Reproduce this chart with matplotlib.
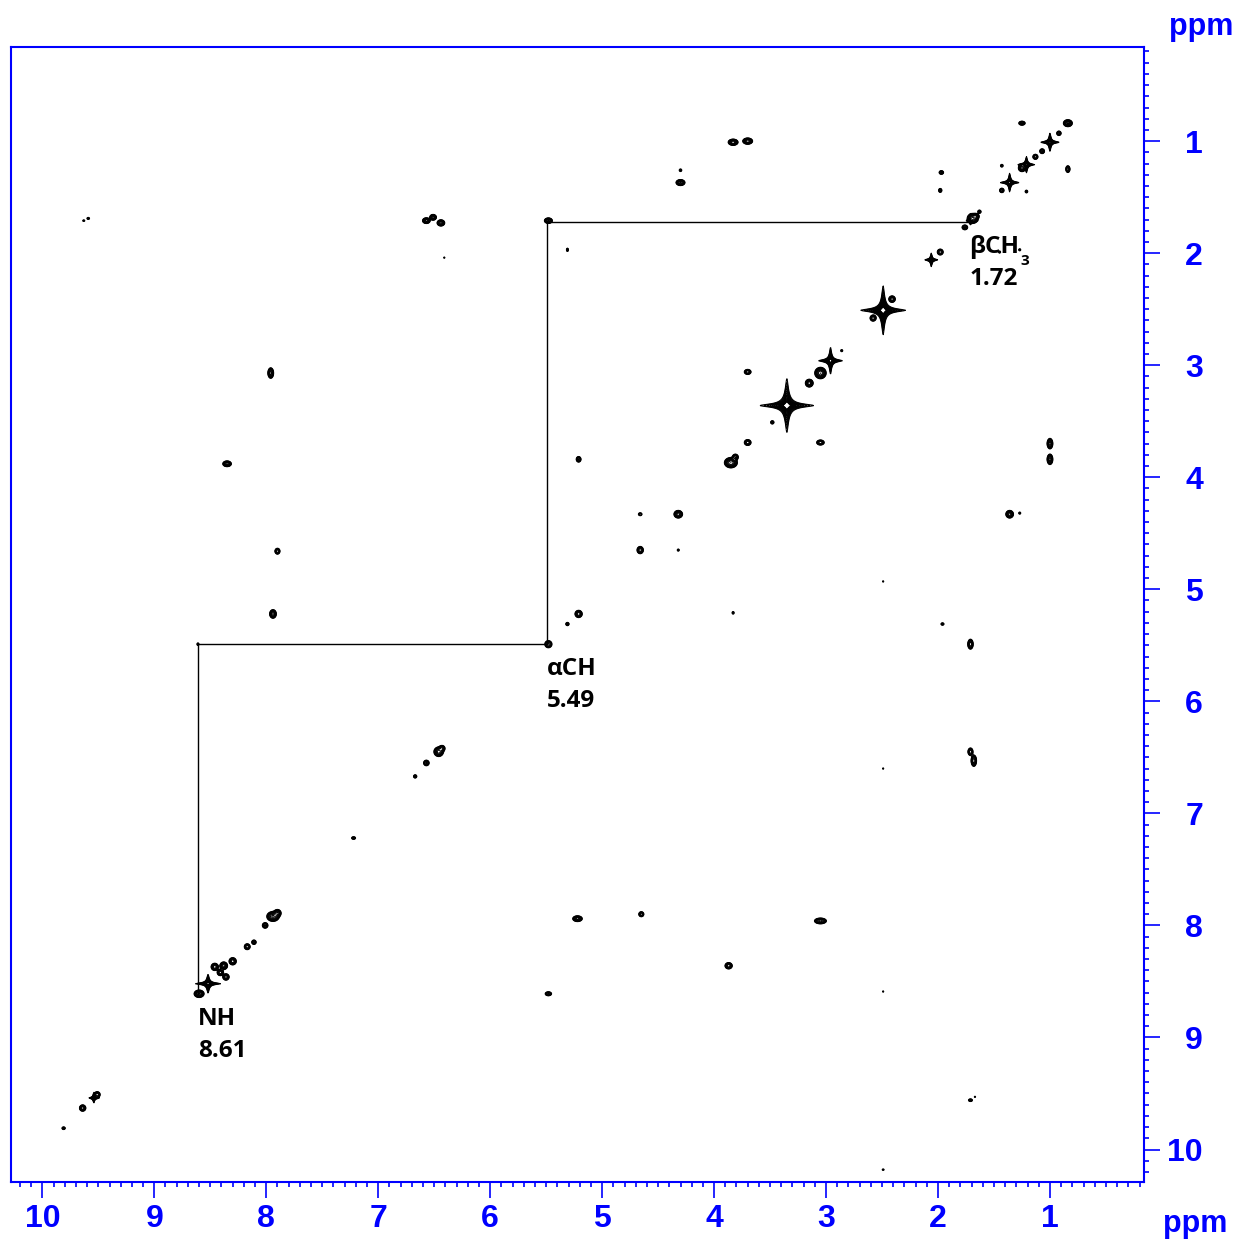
import numpy as np
import matplotlib
matplotlib.use("Agg")
import matplotlib.pyplot as plt
from matplotlib.ticker import MultipleLocator

# ---------------------------------------------------------------- data
# Strong, star-shaped diagonal signals (Lorentzian line shapes), ppm
star_f2 = [3.35, 2.49, 2.96, 1.00, 1.21, 1.36, 8.52, 2.06, 1.71, 9.54]
star_f1 = [3.36, 2.51, 2.96, 1.01, 1.21, 1.37, 8.52, 2.06, 1.71, 9.54]
star_height = [400, 400, 230, 200, 150, 200, 200, 150, 50, 80]
star_hw2 = [0.012, 0.010, 0.007, 0.006, 0.006, 0.006, 0.008, 0.005, 0.005, 0.005]
star_hw1 = [0.012, 0.011, 0.008, 0.006, 0.006, 0.006, 0.006, 0.005, 0.005, 0.005]

# Remaining diagonal and cross peaks (Gaussian line shapes), ppm
spot_f2 = [0.84, 0.92, 1.07, 1.13, 1.25, 1.43, 1.43, 1.21, 0.84, 1.25,
           1.97, 1.98, 1.98, 1.63, 1.45, 1.27, 4.30, 4.30, 3.83, 3.70,
           6.57, 6.51, 6.44, 6.41, 5.48, 5.31, 9.59, 9.63, 2.41, 2.58,
           2.86, 3.05, 3.15, 3.48, 3.70, 3.05, 3.70, 3.85, 3.81, 7.96,
           8.35, 7.90, 7.94, 5.21, 4.32, 4.66, 4.32, 4.66, 1.36, 1.27,
           1.00, 1.00, 2.49, 3.83, 5.21, 5.31, 1.96, 1.71, 5.48, 8.61,
           1.71, 1.68, 2.49, 6.46, 6.43, 6.57, 6.67, 7.22, 7.94, 7.90,
           8.01, 8.11, 8.17, 8.30, 8.38, 8.46, 8.36, 8.41, 8.60, 5.22,
           4.65, 3.05, 3.87, 5.48, 2.49, 1.71, 1.67, 2.49, 9.64, 9.81,
           9.51, 1.69, 1.66, 1.76]
spot_f1 = [0.84, 0.93, 1.09, 1.14, 1.24, 1.44, 1.22, 1.45, 1.25, 0.84,
           1.28, 1.44, 1.99, 1.63, 1.99, 1.97, 1.26, 1.37, 1.01, 1.00,
           1.71, 1.68, 1.73, 2.04, 1.71, 1.97, 1.69, 1.71, 2.41, 2.58,
           2.87, 3.07, 3.16, 3.51, 3.69, 3.69, 3.06, 3.87, 3.82, 3.07,
           3.88, 4.66, 5.22, 3.84, 4.33, 4.33, 4.65, 4.65, 4.33, 4.32,
           3.70, 3.84, 4.93, 5.21, 5.22, 5.31, 5.31, 5.49, 5.49, 5.49,
           6.45, 6.53, 6.60, 6.45, 6.42, 6.55, 6.67, 7.22, 7.92, 7.89,
           8.00, 8.15, 8.19, 8.32, 8.36, 8.37, 8.46, 8.42, 8.61, 7.94,
           7.90, 7.96, 8.36, 8.61, 8.59, 9.56, 9.53, 10.18, 9.63, 9.81,
           9.51, 1.69, 1.67, 1.77]
spot_height = [12, 4, 5, 6, 10, 4, 2, 2, 6, 5,
               4, 3, 6, 3, 2, 2, 2, 12, 15, 15,
               10, 10, 10, 1.6, 12, 3, 2, 2, 8, 6,
               2, 15, 15, 3, 6, 6, 6, 15, 6, 10,
               10, 6, 10, 5, 10, 2.5, 2, 8, 10, 2,
               10, 10, 1.6, 2, 8, 3, 2.5, 8, 5, 2,
               6, 8, 1.6, 10, 6, 5, 3, 3, 12, 8,
               5, 4, 6, 8, 10, 8, 8, 8, 12, 10,
               6, 10, 8, 5, 1.6, 3, 1.6, 1.8, 8, 3,
               6, 12, 6, 5]
spot_w2 = [0.018, 0.012, 0.012, 0.012, 0.015, 0.012, 0.010, 0.010, 0.010, 0.016,
           0.012, 0.010, 0.014, 0.010, 0.008, 0.008, 0.010, 0.018, 0.019, 0.019,
           0.016, 0.014, 0.016, 0.006, 0.016, 0.006, 0.010, 0.008, 0.014, 0.014,
           0.008, 0.022, 0.015, 0.010, 0.016, 0.018, 0.016, 0.025, 0.014, 0.012,
           0.018, 0.012, 0.014, 0.012, 0.018, 0.012, 0.008, 0.014, 0.016, 0.008,
           0.012, 0.012, 0.006, 0.008, 0.016, 0.010, 0.010, 0.012, 0.018, 0.008,
           0.012, 0.012, 0.006, 0.020, 0.014, 0.014, 0.010, 0.012, 0.025, 0.016,
           0.014, 0.012, 0.014, 0.016, 0.016, 0.016, 0.014, 0.014, 0.020, 0.020,
           0.012, 0.025, 0.016, 0.016, 0.006, 0.012, 0.006, 0.008, 0.014, 0.010,
           0.014, 0.022, 0.014, 0.014]
spot_w1 = [0.014, 0.012, 0.012, 0.012, 0.015, 0.012, 0.010, 0.010, 0.016, 0.010,
           0.010, 0.012, 0.014, 0.010, 0.008, 0.008, 0.010, 0.012, 0.012, 0.012,
           0.012, 0.012, 0.013, 0.006, 0.011, 0.010, 0.008, 0.006, 0.014, 0.014,
           0.008, 0.022, 0.015, 0.010, 0.014, 0.012, 0.012, 0.020, 0.014, 0.022,
           0.012, 0.014, 0.018, 0.014, 0.016, 0.010, 0.008, 0.016, 0.016, 0.008,
           0.022, 0.022, 0.006, 0.010, 0.016, 0.010, 0.008, 0.022, 0.018, 0.010,
           0.018, 0.025, 0.006, 0.020, 0.014, 0.014, 0.010, 0.008, 0.020, 0.016,
           0.014, 0.012, 0.014, 0.016, 0.016, 0.016, 0.014, 0.014, 0.015, 0.012,
           0.012, 0.012, 0.014, 0.010, 0.006, 0.008, 0.006, 0.006, 0.014, 0.008,
           0.014, 0.020, 0.012, 0.012]

# Sequential walk NH -> alpha CH -> beta CH3
walk_shift = [8.61, 5.49, 1.72]
walk_name = ["NH", "\u03b1CH", "\u03b2CH"]

tick_ppm = [1, 2, 3, 4, 5, 6, 7, 8, 9, 10]
x_lim = (10.28, 0.16)
y_lim = (10.29, 0.16)

# contour levels: geometric series above the noise floor
base_level = 1.0
level_factor = 1.35
n_levels = 14

# ---------------------------------------------------------------- spectrum
n_pts = 2200
f2 = np.linspace(x_lim[1], x_lim[0], n_pts)
f1 = np.linspace(y_lim[1], y_lim[0], n_pts)


def lorentz(axis, centre, hw):
    c = np.asarray(centre)[:, None]
    w = np.asarray(hw)[:, None]
    return 1.0 / (1.0 + ((axis[None, :] - c) / w) ** 2)


def gauss(axis, centre, sd):
    c = np.asarray(centre)[:, None]
    s = np.asarray(sd)[:, None]
    return np.exp(-0.5 * ((axis[None, :] - c) / s) ** 2)


# every peak is separable in f1 and f2, so the plane is a matrix product
gx = np.vstack([lorentz(f2, star_f2, star_hw2), gauss(f2, spot_f2, spot_w2)])
gy = np.vstack([lorentz(f1, star_f1, star_hw1), gauss(f1, spot_f1, spot_w1)])
amp = np.concatenate([star_height, spot_height]).astype(float)
plane = (gy * amp[:, None]).T @ gx

levels = base_level * level_factor ** np.arange(n_levels)

# ---------------------------------------------------------------- figure
plt.rcParams["font.family"] = ["Liberation Sans", "DejaVu Sans"]
blue = "#0000ff"

fig = plt.figure(figsize=(12.37, 12.43), dpi=100)
ax = fig.add_axes([11 / 1237, 1 - 1182 / 1243, 1133 / 1237, 1135 / 1243])

ax.contour(f2, f1, plane, levels=levels, colors="black", linewidths=0.75)

# sequential assignment path
path_x = [walk_shift[2], walk_shift[1], walk_shift[1], walk_shift[0], walk_shift[0]]
path_y = [walk_shift[2], walk_shift[2], walk_shift[1], walk_shift[1], walk_shift[0]]
ax.plot(path_x, path_y, color="black", lw=1.0)

label_font = dict(family=["Open Sans", "DejaVu Sans"], fontweight="bold",
                  fontsize=17.5, color="black")
for shift, name in zip(walk_shift, walk_name):
    t = ax.annotate(name, xy=(shift, shift), xytext=(0, -22.5),
                    textcoords="offset points", ha="left", va="baseline",
                    **label_font)
    ax.annotate(f"{shift:.2f}", xy=(shift, shift), xytext=(0, -45.5),
                textcoords="offset points", ha="left", va="baseline",
                **label_font)
    if name == "\u03b2CH":
        ax.annotate("3", xy=(1, 0), xycoords=t, xytext=(0.5, -4),
                    textcoords="offset points", ha="left", va="baseline",
                    family=["Open Sans", "DejaVu Sans"], fontweight="bold",
                    fontsize=11, color="black")

ax.set_xlim(*x_lim)
ax.set_ylim(*y_lim)

for side in ax.spines.values():
    side.set_color(blue)
    side.set_linewidth(1.5)

ax.xaxis.set_ticks_position("bottom")
ax.yaxis.set_ticks_position("right")
ax.set_xticks(tick_ppm, labels=[str(v) for v in tick_ppm], fontweight="bold")
ax.set_yticks(tick_ppm, labels=[str(v) for v in tick_ppm], fontweight="bold",
              ha="right")
ax.xaxis.set_minor_locator(MultipleLocator(0.1))
ax.yaxis.set_minor_locator(MultipleLocator(0.1))

ax.tick_params(which="both", direction="out", color=blue, width=1.2)
ax.tick_params(which="major", length=11.5, labelsize=23, labelcolor=blue)
ax.tick_params(which="minor", length=3.5)
ax.tick_params(axis="x", which="major", pad=4)
ax.tick_params(axis="y", which="major", pad=31)

fig.text(1195 / 1237, 1 - 1232 / 1243, "ppm", ha="center", va="baseline",
         color=blue, fontweight="bold", fontsize=22)
fig.text(1201 / 1237, 1 - 35 / 1243, "ppm", ha="center", va="baseline",
         color=blue, fontweight="bold", fontsize=22)

fig.savefig("out.png", dpi=100)
